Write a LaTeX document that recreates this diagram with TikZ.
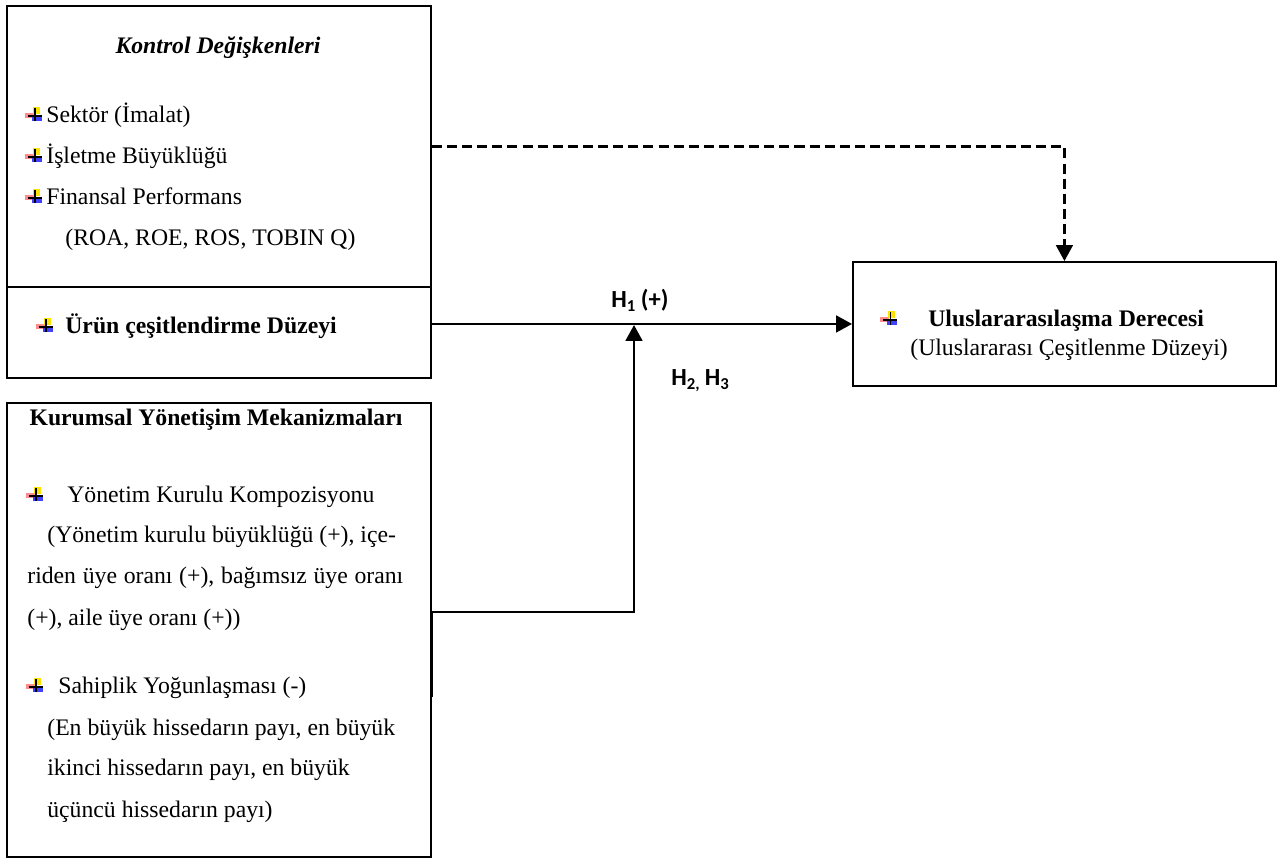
\documentclass[tikz,border=0pt]{standalone}
\usepackage{fontspec}
\setmainfont{Liberation Serif}
\newfontfamily\hfont{Carlito}
\usetikzlibrary{arrows.meta, positioning, calc}

\newcommand{\plusicon}{{\setlength{\unitlength}{1pt}%
  \begin{picture}(10,8.5)
    \put(0,2){\color{red!45}\rule{5pt}{3.4pt}}
    \put(4.6,4.4){\color{yellow!85!orange}\rule{4pt}{4.2pt}}
    \put(4,0.3){\color{blue!75}\rule{5.6pt}{3.4pt}}
    \put(1.4,2.9){\color{black}\rule{8pt}{0.9pt}}
    \put(5.2,0.6){\color{black}\rule{0.9pt}{7.6pt}}
  \end{picture}}}
\newcommand{\hsub}[1]{\raisebox{-0.35ex}{\fontsize{9.5}{9.5}\selectfont #1}}

\tikzset{
  varbox/.style={
    rectangle, draw=black, line width=1.1pt, inner sep=0pt,
    anchor=north west
  },
  txt/.style={anchor=base west, inner sep=0pt,
    font=\fontsize{13.5}{23}\selectfont},
  ttl/.style={anchor=base, inner sep=0pt,
    font=\fontsize{13.5}{23}\selectfont\bfseries},
  ico/.style={anchor=base west, inner sep=0pt},
  hlab/.style={inner sep=0pt, font=\hfont\fontsize{14}{16}\selectfont\bfseries},
  link/.style={-{Triangle[length=9pt, width=9.5pt]}, line width=1.3pt},
  dlink/.style={link, dash pattern=on 5.7pt off 2.9pt}
}

\begin{document}
\begin{tikzpicture}[x=0.02cm, y=-0.02cm]
  \useasboundingbox (0,0) rectangle (1277,859);
  % Kutular
  \node[varbox, minimum width=8.48cm, minimum height=5.62cm] (ctrl) at (6,5) {};
  \node[varbox, minimum width=8.48cm, minimum height=1.82cm] (urun) at (6,286) {};
  \node[varbox, minimum width=8.48cm, minimum height=9.08cm] (kurum) at (6,402) {};
  \node[varbox, minimum width=8.46cm, minimum height=2.48cm] (ulus) at (852,261) {};

  % Kontrol degiskenleri
  \node[ttl, font=\fontsize{13.5}{23}\selectfont\bfseries\itshape] (ctitle) at (218,53)
    {Kontrol Değişkenleri};
  \node[ico] (ic1) at (25,122) {\plusicon};
  \node[txt] (c1) at (46,122) {Sektör (İmalat)};
  \node[ico] (ic2) at (25,163) {\plusicon};
  \node[txt] (c2) at (46,163) {İşletme Büyüklüğü};
  \node[ico] (ic3) at (25,204) {\plusicon};
  \node[txt] (c3) at (46,204) {Finansal Performans};
  \node[txt] (c4) at (65,245) {(ROA, ROE, ROS, TOBIN Q)};

  % Urun cesitlendirme
  \node[ico] (ic4) at (36,333) {\plusicon};
  \node[txt, font=\fontsize{13.5}{23}\selectfont\bfseries] (u1) at (65,333)
    {Ürün çeşitlendirme Düzeyi};

  % Kurumsal yonetisim
  \node[ttl] (ktitle) at (216,425) {Kurumsal Yönetişim Mekanizmaları};
  \node[ico] (ic5) at (26,502) {\plusicon};
  \node[txt] (k1) at (67,502) {Yönetim Kurulu Kompozisyonu};
  \node[txt] (k2) at (47,542) {(Yönetim kurulu büyüklüğü (+), içe-};
  \node[txt] (k3) at (27,583) {\makebox[7.52cm][s]{riden üye oranı (+), bağımsız üye oranı}};
  \node[txt] (k4) at (27,625) {(+), aile üye oranı (+))};
  \node[ico] (ic6) at (26,693) {\plusicon};
  \node[txt] (k5) at (58,693) {Sahiplik Yoğunlaşması (-)};
  \node[txt] (k6) at (47,735) {(En büyük hissedarın payı, en büyük};
  \node[txt] (k7) at (47,775) {ikinci hissedarın payı, en büyük};
  \node[txt] (k8) at (47,817) {üçüncü hissedarın payı)};

  % Uluslararasilasma
  \node[ico] (ic7) at (880,326) {\plusicon};
  \node[txt, font=\fontsize{13.5}{23}\selectfont\bfseries] (d1) at (928,326)
    {Uluslararasılaşma Derecesi};
  \node[txt] (d2) at (910,355) {(Uluslararası Çeşitlenme Düzeyi)};

  % Baglantilar
  \draw[dlink] (ctrl.east) -| (ulus.north);
  \draw[link] (urun.east |- ulus.west) -- (ulus.west);
  \coordinate (kin) at ($(kurum.north east)+(0,295)$);
  \coordinate (kbend) at (634,612);
  \coordinate (meet) at (634,325);
  \draw[link] (kin) |- (kbend) -- (meet);

  % Hipotezler
  \node[hlab, anchor=base] (h1) at (640,307) {H\hsub{1} (+)};
  \node[hlab, anchor=base west] (h23) at (671,385) {H\hsub{2,}\hspace{3pt}H\hsub{3}};
\end{tikzpicture}
\end{document}
